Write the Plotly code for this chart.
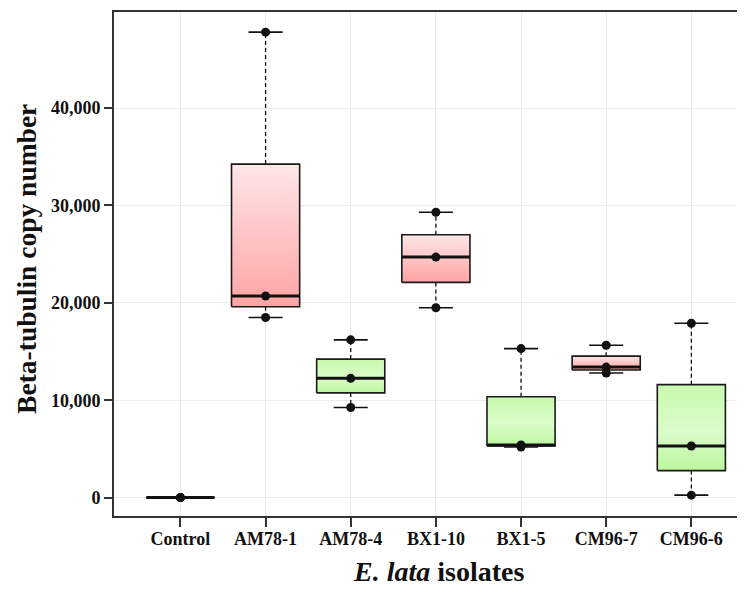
import numpy as np
import plotly.graph_objects as go

# ---- data ----
categories = ["Control", "AM78-1", "AM78-4", "BX1-10", "BX1-5", "CM96-7", "CM96-6"]
control = [0, 0, 0]
am78_1 = [47800, 20700, 18500]
am78_4 = [16200, 12250, 9250]
bx1_10 = [29300, 24700, 19500]
bx1_5 = [15300, 5400, 5200]
cm96_7 = [15650, 13400, 12800]
cm96_6 = [17900, 5300, 250]
box_palette = ["pink", "pink", "green", "pink", "green", "pink", "green"]
y_ticks = [0, 10000, 20000, 30000, 40000]

groups = [control, am78_1, am78_4, bx1_10, bx1_5, cm96_7, cm96_6]

scales = {
    "pink": [[0, "#ffa3a3"], [1, "#ffe6e8"]],
    "green": [[0, "#bcf79e"], [0.45, "#dbfcca"], [1, "#c8faae"]],
}

FONT = "Palatino Linotype, Book Antiqua, Palatino, Liberation Serif, serif"
INK = "#111111"
half_w = 0.4
cap_w = 0.2

fig = go.Figure()

for i, vals in enumerate(groups):
    q1, med, q3 = np.percentile(vals, [25, 50, 75])
    lo, hi = min(vals), max(vals)
    # whiskers (dashed)
    fig.add_trace(go.Scatter(
        x=[i, i, None, i, i], y=[q3, hi, None, q1, lo], mode="lines",
        line=dict(color=INK, width=1.3, dash="4px,3px"),
        hoverinfo="skip", showlegend=False))
    # caps
    fig.add_trace(go.Scatter(
        x=[i - cap_w, i + cap_w, None, i - cap_w, i + cap_w],
        y=[hi, hi, None, lo, lo], mode="lines",
        line=dict(color=INK, width=1.6),
        hoverinfo="skip", showlegend=False))
    # box with gradient fill
    fig.add_trace(go.Scatter(
        x=[i - half_w, i + half_w, i + half_w, i - half_w, i - half_w],
        y=[q1, q1, q3, q3, q1], mode="lines", fill="toself",
        fillgradient=dict(type="vertical", colorscale=scales[box_palette[i]]),
        line=dict(color="#1a1a1a", width=1.6),
        hoverinfo="skip", showlegend=False))
    # median
    fig.add_trace(go.Scatter(
        x=[i - half_w, i + half_w], y=[med, med], mode="lines",
        line=dict(color=INK, width=3),
        hoverinfo="skip", showlegend=False))
    # points
    fig.add_trace(go.Scatter(
        x=[i] * len(vals), y=vals, mode="markers",
        marker=dict(color=INK, size=9),
        showlegend=False))

# the page body adds an 8px margin, so the figure is sized to fill the rest
fig.update_layout(
    width=737, height=584,
    margin=dict(l=106, r=0, t=4, b=76),
    plot_bgcolor="white", paper_bgcolor="white",
    font=dict(family=FONT, color="#111111"),
    annotations=[
        dict(text="<b>Beta-tubulin copy number</b>", xref="paper", yref="paper",
             x=-0.138, y=0.51, xanchor="center", yanchor="middle", textangle=-90,
             showarrow=False, font=dict(size=27.5, family=FONT, color="#111111")),
        dict(text="<b><i>E. lata</i> isolates</b>", xref="paper", yref="paper",
             x=0.515, y=-0.11, xanchor="center", yanchor="middle",
             showarrow=False, font=dict(size=28, family=FONT, color="#111111")),
    ],
)
fig.update_xaxes(
    range=[-0.78, 6.63], tickmode="array", tickvals=list(range(len(categories))),
    ticktext=categories, showgrid=True, gridcolor="#ececec", gridwidth=1,
    ticks="outside", ticklen=9, tickwidth=1.5, tickcolor="#333333",
    showline=True, linecolor="#333333", linewidth=2, mirror=True, zeroline=False,
    tickfont=dict(size=18, weight="bold", family=FONT), automargin=False,
    ticklabelstandoff=-4,
)
fig.update_yaxes(
    range=[-1890, 49870], tickmode="array", tickvals=y_ticks, tickformat=",d",
    showgrid=True, gridcolor="#ececec", gridwidth=1,
    ticks="outside", ticklen=8, tickwidth=1.5, tickcolor="#333333",
    showline=True, linecolor="#333333", linewidth=2, mirror=False, zeroline=False,
    tickfont=dict(size=18, weight="bold", family=FONT), automargin=False,
)

fig.write_html("out.html")
